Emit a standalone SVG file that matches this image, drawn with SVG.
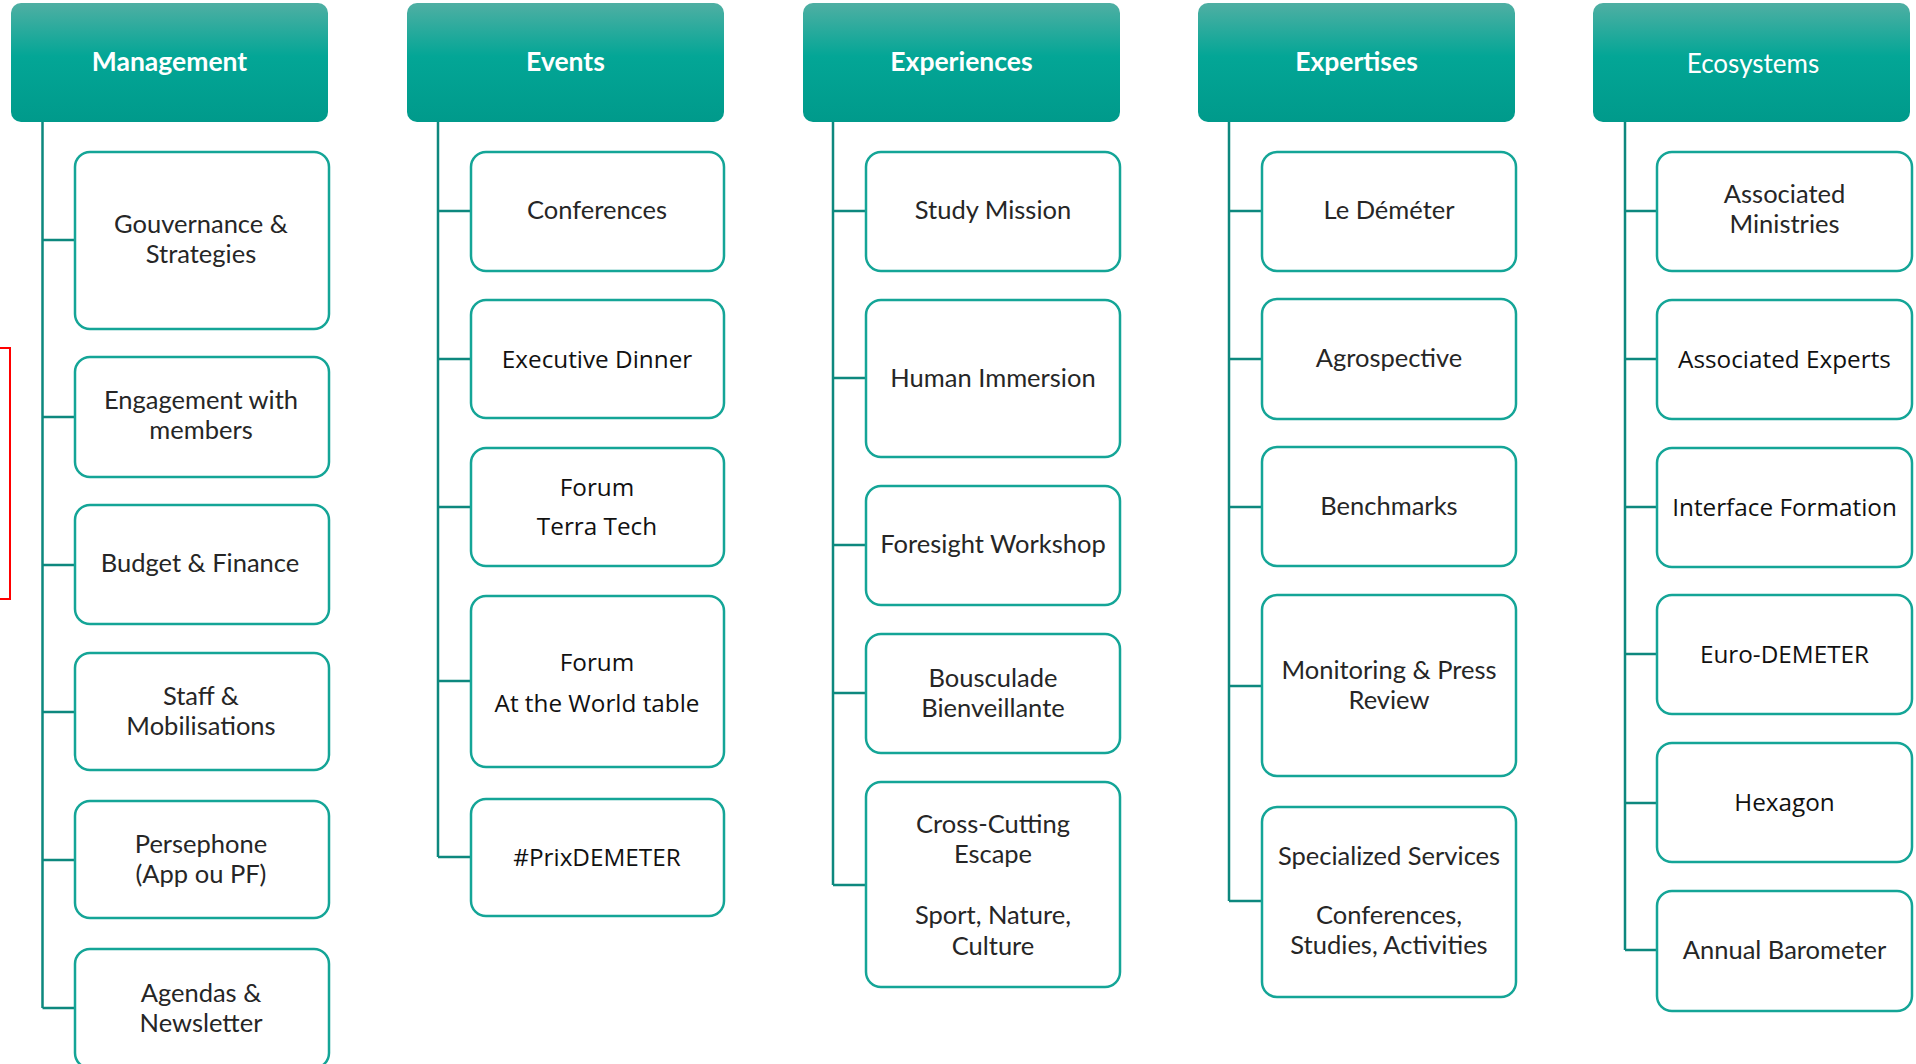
<svg xmlns="http://www.w3.org/2000/svg" width="1916" height="1064" viewBox="0 0 1916 1064">
<defs>
<linearGradient id="hdr" x1="0" y1="0" x2="0" y2="1">
<stop offset="0" stop-color="#4fafa3"/>
<stop offset="0.45" stop-color="#03a696"/>
<stop offset="1" stop-color="#009a8b"/>
</linearGradient>
</defs>
<style>
.hdr{fill:url(#hdr);}
.ht{font-family:Lato,"Liberation Sans",sans-serif;font-size:26.5px;font-weight:bold;fill:#ffffff;text-anchor:middle;}
.htr{font-weight:normal;font-size:26px;}
.box{fill:#ffffff;stroke:#14a597;stroke-width:2.5;}
.t{font-family:Lato,"Liberation Sans",sans-serif;font-size:25.5px;fill:#262626;text-anchor:middle;}
.alt{font-family:"Open Sans","Liberation Sans",sans-serif;font-size:24.3px;fill:#111111;}
.con{fill:none;stroke:#0d887e;stroke-width:2.5;}
</style>
<rect width="1916" height="1064" fill="#ffffff"/>
<rect x="-20" y="348" width="30" height="251" fill="none" stroke="#ff0000" stroke-width="2"/>

<g id="connectors">
<path class="con" d="M42.5 122 V1008 M42.5 240 H75 M42.5 417 H75 M42.5 565 H75 M42.5 712 H75 M42.5 860 H75 M42.5 1008 H75"/>
<path class="con" d="M438 122 V857 M438 211 H471 M438 359 H471 M438 507 H471 M438 681 H471 M438 857 H471"/>
<path class="con" d="M833 122 V885 M833 211 H866 M833 378 H866 M833 545 H866 M833 693 H866 M833 885 H866"/>
<path class="con" d="M1229 122 V901 M1229 211 H1262 M1229 359 H1262 M1229 507 H1262 M1229 686 H1262 M1229 901 H1262"/>
<path class="con" d="M1625 122 V950 M1625 211 H1657 M1625 359 H1657 M1625 507 H1657 M1625 654 H1657 M1625 803 H1657 M1625 950 H1657"/>
</g>

<g id="h-management"><rect class="hdr" x="11" y="3" width="317" height="119" rx="10"/><text class="ht" x="169.5" y="71">Management</text></g>
<g id="h-events"><rect class="hdr" x="407" y="3" width="317" height="119" rx="10"/><text class="ht" x="565.5" y="71">Events</text></g>
<g id="h-experiences"><rect class="hdr" x="803" y="3" width="317" height="119" rx="10"/><text class="ht" x="961.5" y="71">Experiences</text></g>
<g id="h-expertises"><rect class="hdr" x="1198" y="3" width="317" height="119" rx="10"/><text class="ht" x="1356.5" y="71">Expertises</text></g>
<g id="h-ecosystems"><rect class="hdr" x="1593" y="3" width="317" height="119" rx="10"/><text class="ht htr" x="1753" y="73">Ecosystems</text></g>

<!-- Management -->
<g id="n-gouvernance"><rect class="box" x="75" y="152" width="254" height="177" rx="15"/><text class="t"><tspan x="201" y="232.5">Gouvernance &amp;</tspan><tspan x="201" y="262.5">Strategies</tspan></text></g>
<g id="n-engagement"><rect class="box" x="75" y="357" width="254" height="120" rx="15"/><text class="t"><tspan x="201" y="409">Engagement with</tspan><tspan x="201" y="439">members</tspan></text></g>
<g id="n-budget"><rect class="box" x="75" y="505" width="254" height="119" rx="15"/><text class="t" x="200" y="572">Budget &amp; Finance</text></g>
<g id="n-staff"><rect class="box" x="75" y="653" width="254" height="117" rx="15"/><text class="t"><tspan x="201" y="705">Staff &amp;</tspan><tspan x="201" y="735">Mobilisations</tspan></text></g>
<g id="n-persephone"><rect class="box" x="75" y="801" width="254" height="117" rx="15"/><text class="t"><tspan x="201" y="853">Persephone</tspan><tspan x="201" y="883">(App ou PF)</tspan></text></g>
<g id="n-agendas"><rect class="box" x="75" y="949" width="254" height="119" rx="15"/><text class="t"><tspan x="201" y="1001.5">Agendas &amp;</tspan><tspan x="201" y="1031.5">Newsletter</tspan></text></g>

<!-- Events -->
<g id="n-conferences"><rect class="box" x="471" y="152" width="253" height="119" rx="15"/><text class="t" x="597" y="218.5">Conferences</text></g>
<g id="n-executive"><rect class="box" x="471" y="300" width="253" height="118" rx="15"/><text class="t alt" x="597" y="367.5">Executive Dinner</text></g>
<g id="n-terratech"><rect class="box" x="471" y="448" width="253" height="118" rx="15"/><text class="t alt"><tspan x="597" y="495.5">Forum</tspan><tspan x="597" y="534.5">Terra Tech</tspan></text></g>
<g id="n-worldtable"><rect class="box" x="471" y="596" width="253" height="171" rx="15"/><text class="t alt"><tspan x="597" y="671">Forum</tspan><tspan x="597" y="711.5">At the World table</tspan></text></g>
<g id="n-prix"><rect class="box" x="471" y="799" width="253" height="117" rx="15"/><text class="t alt" x="597" y="866">#PrixDEMETER</text></g>

<!-- Experiences -->
<g id="n-study"><rect class="box" x="866" y="152" width="254" height="119" rx="15"/><text class="t" x="993" y="218.5">Study Mission</text></g>
<g id="n-human"><rect class="box" x="866" y="300" width="254" height="157" rx="15"/><text class="t" x="993" y="386.5">Human Immersion</text></g>
<g id="n-foresight"><rect class="box" x="866" y="486" width="254" height="119" rx="15"/><text class="t" x="993" y="553">Foresight Workshop</text></g>
<g id="n-bousculade"><rect class="box" x="866" y="634" width="254" height="119" rx="15"/><text class="t"><tspan x="993" y="686.5">Bousculade</tspan><tspan x="993" y="716.5">Bienveillante</tspan></text></g>
<g id="n-crosscutting"><rect class="box" x="866" y="782" width="254" height="205" rx="15"/><text class="t"><tspan x="993" y="832.5">Cross-Cutting</tspan><tspan x="993" y="863">Escape</tspan><tspan x="993" y="924">Sport, Nature,</tspan><tspan x="993" y="954.5">Culture</tspan></text></g>

<!-- Expertises -->
<g id="n-demeter"><rect class="box" x="1262" y="152" width="254" height="119" rx="15"/><text class="t" x="1389" y="218.5">Le Déméter</text></g>
<g id="n-agrospective"><rect class="box" x="1262" y="299" width="254" height="120" rx="15"/><text class="t" x="1389" y="367">Agrospective</text></g>
<g id="n-benchmarks"><rect class="box" x="1262" y="447" width="254" height="119" rx="15"/><text class="t" x="1389" y="514.5">Benchmarks</text></g>
<g id="n-monitoring"><rect class="box" x="1262" y="595" width="254" height="181" rx="15"/><text class="t"><tspan x="1389" y="678.5">Monitoring &amp; Press</tspan><tspan x="1389" y="709">Review</tspan></text></g>
<g id="n-specialized"><rect class="box" x="1262" y="807" width="254" height="190" rx="15"/><text class="t"><tspan x="1389" y="865">Specialized Services</tspan><tspan x="1389" y="924">Conferences,</tspan><tspan x="1389" y="954">Studies, Activities</tspan></text></g>

<!-- Ecosystems -->
<g id="n-ministries"><rect class="box" x="1657" y="152" width="255" height="119" rx="15"/><text class="t"><tspan x="1784.5" y="203">Associated</tspan><tspan x="1784.5" y="233">Ministries</tspan></text></g>
<g id="n-experts"><rect class="box" x="1657" y="300" width="255" height="119" rx="15"/><text class="t alt" x="1784.5" y="367.5">Associated Experts</text></g>
<g id="n-interface"><rect class="box" x="1657" y="448" width="255" height="119" rx="15"/><text class="t alt" x="1784.5" y="515.5">Interface Formation</text></g>
<g id="n-euro"><rect class="box" x="1657" y="595" width="255" height="119" rx="15"/><text class="t alt" x="1784.5" y="662.5">Euro-DEMETER</text></g>
<g id="n-hexagon"><rect class="box" x="1657" y="743" width="255" height="119" rx="15"/><text class="t alt" x="1784.5" y="811">Hexagon</text></g>
<g id="n-barometer"><rect class="box" x="1657" y="891" width="255" height="120" rx="15"/><text class="t" x="1784.5" y="958.5">Annual Barometer</text></g>
</svg>
